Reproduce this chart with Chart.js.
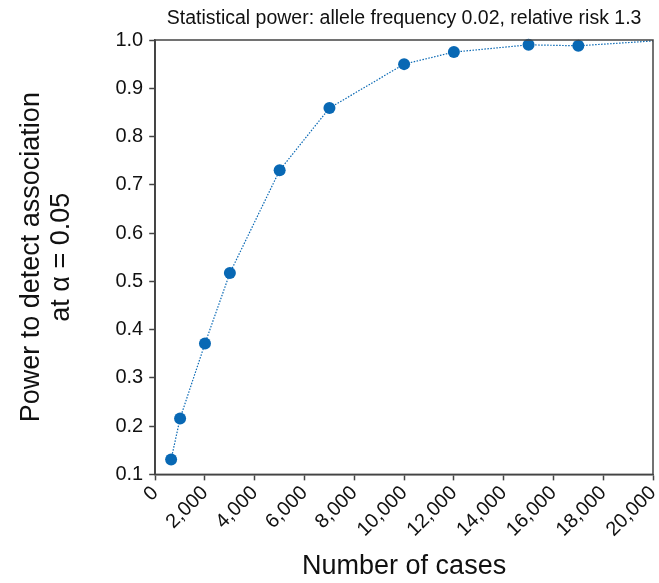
<!DOCTYPE html>
<html>
<head>
<meta charset="utf-8">
<script src="https://cdn.jsdelivr.net/npm/chart.js@4/dist/chart.umd.min.js"></script>
<style>
  html, body { margin: 0; padding: 0; background: #fff; }
  #wrap { width: 659px; height: 583px; }
</style>
</head>
<body>
<div id="wrap"><canvas id="powerChart"></canvas></div>
<script>
/*Data*/

const caseCounts = [640, 1000, 2000, 3000, 5000, 7000, 10000, 12000, 15000, 17000, 20000];
const powerValues = [0.131, 0.216, 0.371, 0.517, 0.730, 0.859, 0.950, 0.975, 0.990, 0.988, 0.998];
const yTicks = [0.1, 0.2, 0.3, 0.4, 0.5, 0.6, 0.7, 0.8, 0.9, 1.0];
const xTicks = [0, 2000, 4000, 6000, 8000, 10000, 12000, 14000, 16000, 18000, 20000];
const chartTitle = 'Statistical power: allele frequency 0.02, relative risk 1.3';

const fontFamily = '"Liberation Sans", Arial, Helvetica, sans-serif';
const axisColor = '#444';
const blue = '#0868b4';

/*Frame round the plot + title centred over the plot*/

const framePlugin = {
    id: 'frame',
    afterDraw(chart) {
        const a = chart.chartArea;
        const ctx = chart.ctx;
        ctx.save();
        ctx.strokeStyle = axisColor;
        ctx.lineWidth = 1.5;
        ctx.strokeRect(a.left, a.top, a.right - a.left, a.bottom - a.top);

        ctx.fillStyle = '#111';
        ctx.font = '19.5px ' + fontFamily;
        ctx.textAlign = 'center';
        ctx.textBaseline = 'middle';
        ctx.fillText(chartTitle, (a.left + a.right) / 2, 19);
        ctx.restore();
    }
};

function initChart() {
    const ctx = document.getElementById('powerChart').getContext('2d');
    const points = caseCounts.map((n, i) => ({ x: n, y: powerValues[i] }));

    new Chart(ctx, {
        type: 'line',
        data: {
            datasets: [{
                data: points,
                borderColor: blue,
                backgroundColor: blue,
                borderWidth: 1.2,
                borderDash: [1.5, 1.5],
                pointRadius: points.map((p, i) => i === points.length - 1 ? 0 : 6),
                pointBorderWidth: 0,
                pointBackgroundColor: blue,
                tension: 0,
                clip: false
            }]
        },
        options: {
            responsive: true,
            maintainAspectRatio: false,
            animation: false,
            layout: { padding: { left: 17, right: 6, top: 40, bottom: 0 } },
            plugins: {
                legend: { display: false },
                tooltip: { enabled: false },
                title: { display: false }
            },
            scales: {
                x: {
                    type: 'linear',
                    min: 0,
                    max: 20000,
                    afterBuildTicks(scale) {
                        scale.ticks = xTicks.map(v => ({ value: v }));
                    },
                    afterFit(scale) {
                        scale.paddingRight = 0;
                        scale.paddingLeft = 0;
                    },
                    ticks: {
                        color: '#111',
                        font: { family: fontFamily, size: 20 },
                        minRotation: 45,
                        maxRotation: 45,
                        padding: 1,
                        callback: v => v.toLocaleString('en-US')
                    },
                    grid: {
                        drawOnChartArea: false,
                        drawTicks: true,
                        tickLength: 6,
                        tickWidth: 1.5,
                        color: axisColor
                    },
                    border: { color: axisColor, width: 1.5 },
                    title: {
                        display: true,
                        text: 'Number of cases',
                        color: '#111',
                        font: { family: fontFamily, size: 27 },
                        padding: { top: 8, bottom: 0 }
                    }
                },
                y: {
                    type: 'linear',
                    min: 0.1,
                    max: 1.0,
                    afterBuildTicks(scale) {
                        scale.ticks = yTicks.map(v => ({ value: v }));
                    },
                    ticks: {
                        color: '#111',
                        font: { family: fontFamily, size: 20 },
                        padding: 6,
                        callback: v => v.toFixed(1)
                    },
                    grid: {
                        drawOnChartArea: false,
                        drawTicks: true,
                        tickLength: 6,
                        tickWidth: 1.5,
                        color: axisColor
                    },
                    border: { color: axisColor, width: 1.5 },
                    title: {
                        display: true,
                        text: ['Power to detect association', 'at \u03b1 = 0.05'],
                        color: '#111',
                        font: { family: fontFamily, size: 27, lineHeight: 1.1 },
                        padding: { top: 0, bottom: 33 }
                    }
                }
            }
        },
        plugins: [framePlugin]
    });
}

const app = () => {
    initChart();
};
app();
</script>
</body>
</html>
